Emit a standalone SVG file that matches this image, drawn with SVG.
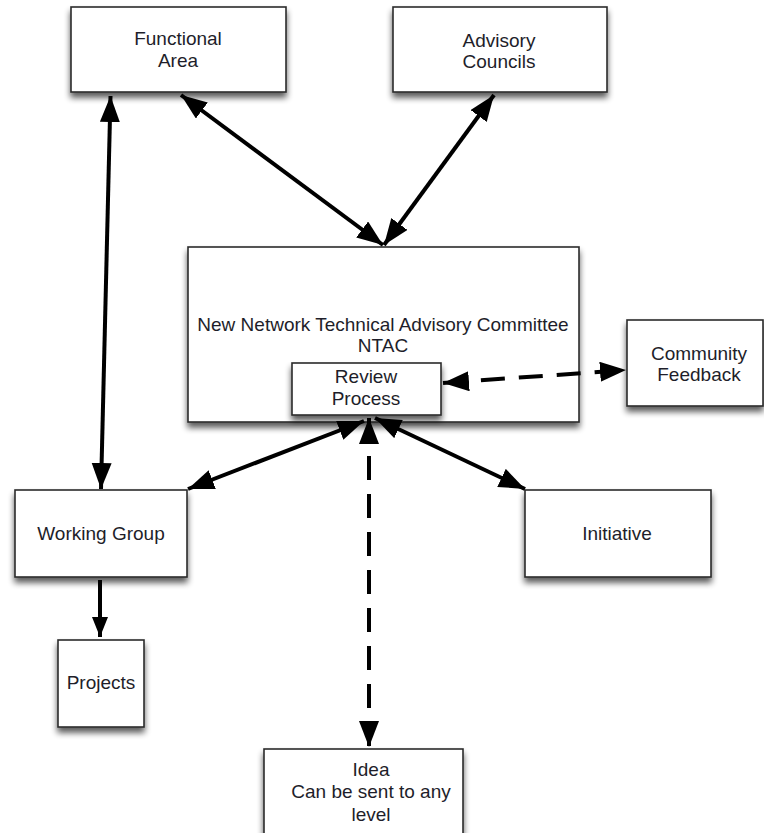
<svg xmlns="http://www.w3.org/2000/svg" width="764" height="833" viewBox="0 0 764 833">
<style>
.box{fill:#fff;stroke:#2a2a2a;stroke-width:1.6;filter:url(#sh)}
.t{font-family:"Liberation Sans",Arial,sans-serif;font-size:19px;fill:#1e1e2a;text-anchor:middle}
.c{stroke:#000;stroke-width:4;fill:none}
.d{stroke-dasharray:24 14}
</style>
<defs>
<filter id="sh" x="-10%" y="-10%" width="120%" height="130%">
<feGaussianBlur in="SourceAlpha" stdDeviation="3"/>
<feOffset dx="0" dy="5" result="b"/>
<feComponentTransfer><feFuncA type="linear" slope="0.65"/></feComponentTransfer>
<feMerge><feMergeNode/><feMergeNode in="SourceGraphic"/></feMerge>
</filter>
<marker id="ah" markerUnits="userSpaceOnUse" markerWidth="28" markerHeight="22" refX="26" refY="10" orient="auto-start-reverse">
<path d="M0,0 L26,10 L0,20 Z" fill="#000"/>
</marker>
<marker id="as" markerUnits="userSpaceOnUse" markerWidth="22" markerHeight="18" refX="20" refY="8" orient="auto-start-reverse">
<path d="M0,0 L20,8 L0,16 Z" fill="#000"/>
</marker>
</defs>
<g id="functional-area"><rect class="box" x="71" y="7" width="215" height="85"/><text class="t" x="178" y="45">Functional</text><text class="t" x="178" y="67">Area</text></g>
<g id="advisory-councils"><rect class="box" x="393" y="7" width="214" height="85"/><text class="t" x="499" y="47">Advisory</text><text class="t" x="499" y="68">Councils</text></g>
<g id="ntac"><rect class="box" x="188" y="247" width="391" height="175"/><text class="t" x="383" y="331">New Network Technical Advisory Committee</text><text class="t" x="383" y="352">NTAC</text></g>
<g id="review-process"><rect class="box" x="292" y="363" width="149" height="52"/><text class="t" x="366" y="383">Review</text><text class="t" x="366" y="405">Process</text></g>
<g id="community-feedback"><rect class="box" x="627" y="320" width="136" height="86"/><text class="t" x="699" y="360">Community</text><text class="t" x="699" y="381">Feedback</text></g>
<g id="working-group"><rect class="box" x="15" y="490" width="172" height="87"/><text class="t" x="101" y="540">Working Group</text></g>
<g id="initiative"><rect class="box" x="525" y="490" width="186" height="87"/><text class="t" x="617" y="540">Initiative</text></g>
<g id="projects"><rect class="box" x="58" y="640" width="86" height="87"/><text class="t" x="101" y="689">Projects</text></g>
<g id="idea"><rect class="box" x="264" y="749" width="199" height="100"/><text class="t" x="371" y="776">Idea</text><text class="t" x="371" y="798">Can be sent to any</text><text class="t" x="371" y="821">level</text></g>
<g id="connectors">
<line class="c" x1="181" y1="95" x2="383" y2="245" marker-start="url(#ah)" marker-end="url(#ah)"/>
<line class="c" x1="494" y1="95" x2="384" y2="245" marker-start="url(#ah)" marker-end="url(#ah)"/>
<line class="c" x1="110.5" y1="96" x2="101" y2="489" marker-start="url(#ah)" marker-end="url(#ah)"/>
<line class="c d" x1="443" y1="383" x2="626" y2="370" marker-start="url(#ah)" marker-end="url(#ah)"/>
<line class="c" x1="188" y1="489" x2="364" y2="421" marker-start="url(#ah)" marker-end="url(#ah)"/>
<line class="c" x1="375" y1="418" x2="525" y2="489" marker-start="url(#ah)" marker-end="url(#ah)"/>
<line class="c d" x1="369" y1="418" x2="369" y2="747" marker-start="url(#ah)" marker-end="url(#ah)"/>
<line class="c" x1="100" y1="580" x2="100" y2="637" marker-end="url(#as)"/>
</g>
</svg>
